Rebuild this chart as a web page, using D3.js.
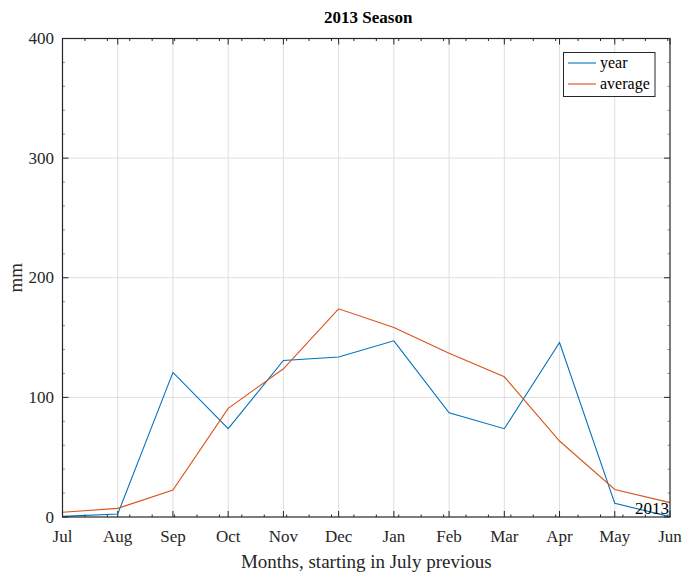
<!DOCTYPE html>
<html>
<head>
<meta charset="utf-8">
<script src="https://cdn.jsdelivr.net/npm/d3@7"></script>
<style>
html,body{margin:0;padding:0;background:#fff;}
svg{display:block;}
text{font-family:"Liberation Serif","Times New Roman",serif;fill:#262626;}
</style>
</head>
<body>
<script>
const months = ["Jul","Aug","Sep","Oct","Nov","Dec","Jan","Feb","Mar","Apr","May","Jun"];
const yearValues = [0.5, 2.5, 120.9, 73.8, 130.9, 133.7, 147.3, 87.1, 73.8, 145.9, 11.4, 0.3];
const averageValues = [4, 7.2, 22.5, 90.8, 123.9, 174, 158.5, 136.8, 117.2, 63.5, 23, 12];
const yTicks = [0, 100, 200, 300, 400];
const seriesNames = ["year", "average"];
const seriesColors = ["#0072BD", "#D95319"];
const titleText = "2013 Season";
const xLabelText = "Months, starting in July previous";
const yLabelText = "mm";
const cornerText = "2013";

const W = 685, H = 578;
const L = 62.5, R = 670, T = 38.5, B = 517;

const svg = d3.select("body").append("svg").attr("width", W).attr("height", H);

const x = d3.scaleLinear().domain([0, months.length - 1]).range([L, R]);
const y = d3.scaleLinear().domain([0, 400]).range([B, T]);

// grid
const g = svg.append("g");
g.selectAll("line.vg").data(d3.range(1, months.length - 1)).enter().append("line")
  .attr("x1", d => x(d)).attr("x2", d => x(d)).attr("y1", T).attr("y2", B)
  .attr("stroke", "#dfdfdf").attr("stroke-width", 1);
g.selectAll("line.hg").data(yTicks.slice(1, -1)).enter().append("line")
  .attr("x1", L).attr("x2", R).attr("y1", d => y(d)).attr("y2", d => y(d))
  .attr("stroke", "#dfdfdf").attr("stroke-width", 1);

// minor ticks
const xMinorStep = 11 / 27.1;
const xMinor = d3.range(xMinorStep, months.length - 1, xMinorStep);
const yMinor = d3.range(20, 400, 20).filter(v => v % 100 !== 0);
const tk = svg.append("g").attr("stroke", "#262626").attr("stroke-width", 1);
xMinor.forEach(v => {
  tk.append("line").attr("x1", x(v)).attr("x2", x(v)).attr("y1", B).attr("y2", B - 2.5);
  tk.append("line").attr("x1", x(v)).attr("x2", x(v)).attr("y1", T).attr("y2", T + 2.5);
});
yMinor.forEach(v => {
  tk.append("line").attr("x1", L).attr("x2", L + 2.5).attr("y1", y(v)).attr("y2", y(v)).attr("stroke-opacity", 0.5);
  tk.append("line").attr("x1", R).attr("x2", R - 2.5).attr("y1", y(v)).attr("y2", y(v)).attr("stroke-opacity", 0.5);
});
// major ticks
d3.range(months.length).forEach(i => {
  tk.append("line").attr("x1", x(i)).attr("x2", x(i)).attr("y1", B).attr("y2", B - 6);
  tk.append("line").attr("x1", x(i)).attr("x2", x(i)).attr("y1", T).attr("y2", T + 6);
});
yTicks.forEach(v => {
  tk.append("line").attr("x1", L).attr("x2", L + 6).attr("y1", y(v)).attr("y2", y(v));
  tk.append("line").attr("x1", R).attr("x2", R - 6).attr("y1", y(v)).attr("y2", y(v));
});

// lines
const line = d3.line().x((d, i) => x(i)).y(d => y(d));
[yearValues, averageValues].forEach((vals, k) => {
  svg.append("path").datum(vals).attr("d", line)
    .attr("fill", "none").attr("stroke", seriesColors[k]).attr("stroke-width", 1.1);
});

// frame
svg.append("rect").attr("x", L).attr("y", T).attr("width", R - L).attr("height", B - T)
  .attr("fill", "none").attr("stroke", "#262626").attr("stroke-width", 1.2);

// tick labels
svg.selectAll("text.xl").data(months).enter().append("text")
  .attr("x", (d, i) => x(i)).attr("y", 542).attr("text-anchor", "middle")
  .attr("font-size", 17).text(d => d);
svg.selectAll("text.yl").data(yTicks).enter().append("text")
  .attr("x", 54).attr("y", d => y(d) + 5.5).attr("text-anchor", "end")
  .attr("font-size", 17).text(d => d);

// title and labels
svg.append("text").attr("x", (L + R) / 2 + 2).attr("y", 23).attr("text-anchor", "middle")
  .attr("font-size", 17).attr("font-weight", "bold").style("fill", "#000").text(titleText);
svg.append("text").attr("x", (L + R) / 2).attr("y", 568).attr("text-anchor", "middle")
  .attr("font-size", 19).text(xLabelText);
svg.append("text").attr("transform", `translate(22,${(T + B) / 2}) rotate(-90)`)
  .attr("text-anchor", "middle").attr("font-size", 19).text(yLabelText);

svg.append("text").attr("x", R - 1).attr("y", 514).attr("text-anchor", "end")
  .attr("font-size", 17).style("fill", "#000").text(cornerText);

// legend
const lg = svg.append("g");
lg.append("rect").attr("x", 563.5).attr("y", 52.5).attr("width", 91.5).attr("height", 44)
  .attr("fill", "#fff").attr("stroke", "#262626").attr("stroke-width", 1);
seriesNames.forEach((n, k) => {
  const yy = 63 + k * 21;
  lg.append("line").attr("x1", 568).attr("x2", 596).attr("y1", yy).attr("y2", yy)
    .attr("stroke", seriesColors[k]).attr("stroke-width", 1.1);
  lg.append("text").attr("x", 600).attr("y", yy + 5).attr("font-size", 16).style("fill", "#000").text(n);
});
</script>
</body>
</html>
